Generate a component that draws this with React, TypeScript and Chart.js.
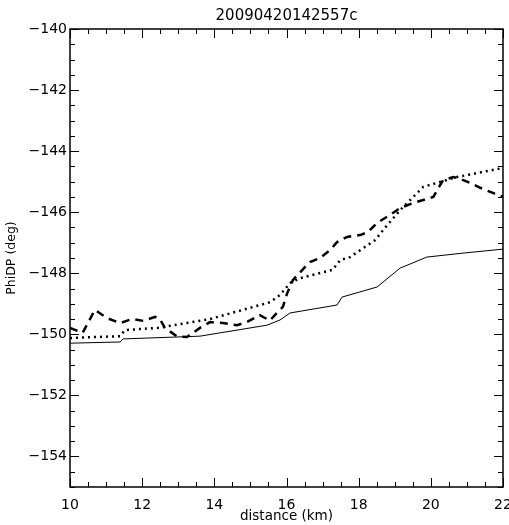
import React, { useEffect, useRef } from "react";
import { Chart, registerables } from "chart.js";

Chart.register(...registerables);

const TITLE = "20090420142557c";
const X_TITLE = "distance (km)";
const Y_TITLE = "PhiDP (deg)";

const solidX = [10, 11.39, 11.47, 13.6, 15.46, 15.82, 16.1, 17.4, 17.54, 18.51, 19.15, 19.89, 20.89, 22.0];
const solidY = [-150.29, -150.25, -150.15, -150.06, -149.7, -149.53, -149.3, -149.04, -148.78, -148.45, -147.83, -147.47, -147.34, -147.21];

const dottedX = [10, 11.39, 11.52, 12.41, 12.58, 13.88, 15.54, 15.82, 16.1, 16.38, 17.27, 17.49, 17.76, 18.46, 18.68, 19.15, 19.79, 20.17, 20.72, 21.44, 22.0];
const dottedY = [-150.12, -150.06, -149.86, -149.79, -149.76, -149.5, -148.95, -148.71, -148.32, -148.16, -147.89, -147.57, -147.47, -146.91, -146.58, -145.93, -145.17, -145.04, -144.85, -144.68, -144.55];

const dashedX = [10, 10.35, 10.69, 11.03, 11.39, 11.72, 12.03, 12.36, 12.49, 12.63, 12.96, 13.24, 13.6, 13.88, 14.24, 14.63, 14.9, 15.26, 15.54, 15.73, 15.9, 16.02, 16.18, 16.51, 16.65, 16.93, 17.21, 17.4, 17.68, 18.04, 18.26, 18.51, 18.87, 19.15, 19.51, 19.79, 20.07, 20.21, 20.34, 20.62, 20.76, 21.09, 21.37, 21.72, 22.0];
const dashedY = [-149.79, -149.95, -149.2, -149.47, -149.63, -149.5, -149.56, -149.43, -149.5, -149.79, -150.06, -150.09, -149.79, -149.6, -149.63, -149.7, -149.6, -149.37, -149.55, -149.3, -149.1, -148.65, -148.22, -147.8, -147.63, -147.5, -147.24, -146.98, -146.81, -146.75, -146.65, -146.35, -146.09, -145.86, -145.7, -145.6, -145.5, -145.21, -144.95, -144.85, -144.88, -145.04, -145.2, -145.37, -145.5];

const toPts = (xs: number[], ys: number[]) => xs.map((x, i) => ({ x, y: ys[i] }));

const FONT = "'DejaVu Sans', sans-serif";

const framePlugin = {
  id: "frameTicks",
  afterDraw(chart: any) {
    const ctx = chart.ctx;
    const { left, right, top, bottom } = chart.chartArea;
    const xs = chart.scales.x;
    const ys = chart.scales.y;
    ctx.save();
    ctx.strokeStyle = "#000";
    ctx.lineWidth = 1.5;
    ctx.strokeRect(left, top, right - left, bottom - top);
    ctx.lineWidth = 1;
    ctx.beginPath();
    for (let v = 10; v <= 22.001; v += 0.5) {
      const px = Math.round(xs.getPixelForValue(v)) + 0.5;
      const major = Math.abs(v / 2 - Math.round(v / 2)) < 1e-6;
      const len = major ? 9 : 5;
      ctx.moveTo(px, bottom);
      ctx.lineTo(px, bottom - len);
      ctx.moveTo(px, top);
      ctx.lineTo(px, top + len);
    }
    for (let v = -155; v <= -139.999; v += 0.5) {
      const py = Math.round(ys.getPixelForValue(v)) + 0.5;
      const major = Math.abs(v / 2 - Math.round(v / 2)) < 1e-6;
      const len = major ? 9 : 5;
      ctx.moveTo(left, py);
      ctx.lineTo(left + len, py);
      ctx.moveTo(right, py);
      ctx.lineTo(right - len, py);
    }
    ctx.stroke();
    ctx.fillStyle = "#000";
    ctx.textAlign = "center";
    ctx.textBaseline = "middle";
    ctx.font = `15px ${FONT}`;
    ctx.fillText(TITLE, (left + right) / 2, 16);
    ctx.font = `13.5px ${FONT}`;
    ctx.fillText(X_TITLE, (left + right) / 2, 516);
    ctx.save();
    ctx.translate(12, (top + bottom) / 2);
    ctx.rotate(-Math.PI / 2);
    ctx.font = `12.5px ${FONT}`;
    ctx.fillText(Y_TITLE, 0, 0);
    ctx.restore();
    ctx.restore();
  },
};

export default function App() {
  const ref = useRef<HTMLCanvasElement>(null);
  useEffect(() => {
    document.body.style.margin = "0";
    const chart = new Chart(ref.current!, {
      type: "line",
      data: {
        datasets: [
          {
            data: toPts(solidX, solidY),
            borderColor: "#000",
            borderWidth: 1,
            pointRadius: 0,
            tension: 0,
          },
          {
            data: toPts(dottedX, dottedY),
            borderColor: "#000",
            borderWidth: 2.5,
            borderDash: [2, 4],
            pointRadius: 0,
            tension: 0,
          },
          {
            data: toPts(dashedX, dashedY),
            borderColor: "#000",
            borderWidth: 2.5,
            borderDash: [8, 6],
            pointRadius: 0,
            tension: 0,
          },
        ],
      },
      options: {
        responsive: false,
        animation: false,
        layout: { padding: { top: 29, right: 6, left: 0, bottom: 0 } },
        plugins: { legend: { display: false }, tooltip: { enabled: false }, title: { display: false } },
        scales: {
          x: {
            type: "linear",
            min: 10,
            max: 22,
            grid: { display: false, drawTicks: false },
            border: { display: false },
            ticks: {
              stepSize: 2,
              padding: 10,
              color: "#000",
              font: { family: FONT, size: 14 },
              maxRotation: 0,
              autoSkip: false,
            },
            afterFit: (s: any) => {
              s.height = 38;
              s.paddingLeft = 0;
              s.paddingRight = 0;
            },
          },
          y: {
            type: "linear",
            min: -155,
            max: -140,
            grid: { display: false, drawTicks: false },
            border: { display: false },
            ticks: {
              stepSize: 2,
              padding: 3,
              color: "#000",
              font: { family: FONT, size: 14 },
              callback: (v: any) => (Number(v) % 2 === 0 ? String(v).replace("-", "\u2212") : ""),
            },
            afterFit: (s: any) => {
              s.width = 70;
              s.paddingTop = 0;
              s.paddingBottom = 0;
            },
          },
        },
      },
      plugins: [framePlugin],
    } as any);
    return () => chart.destroy();
  }, []);
  return <canvas ref={ref} width={509} height={525} style={{ display: "block" }} />;
}
